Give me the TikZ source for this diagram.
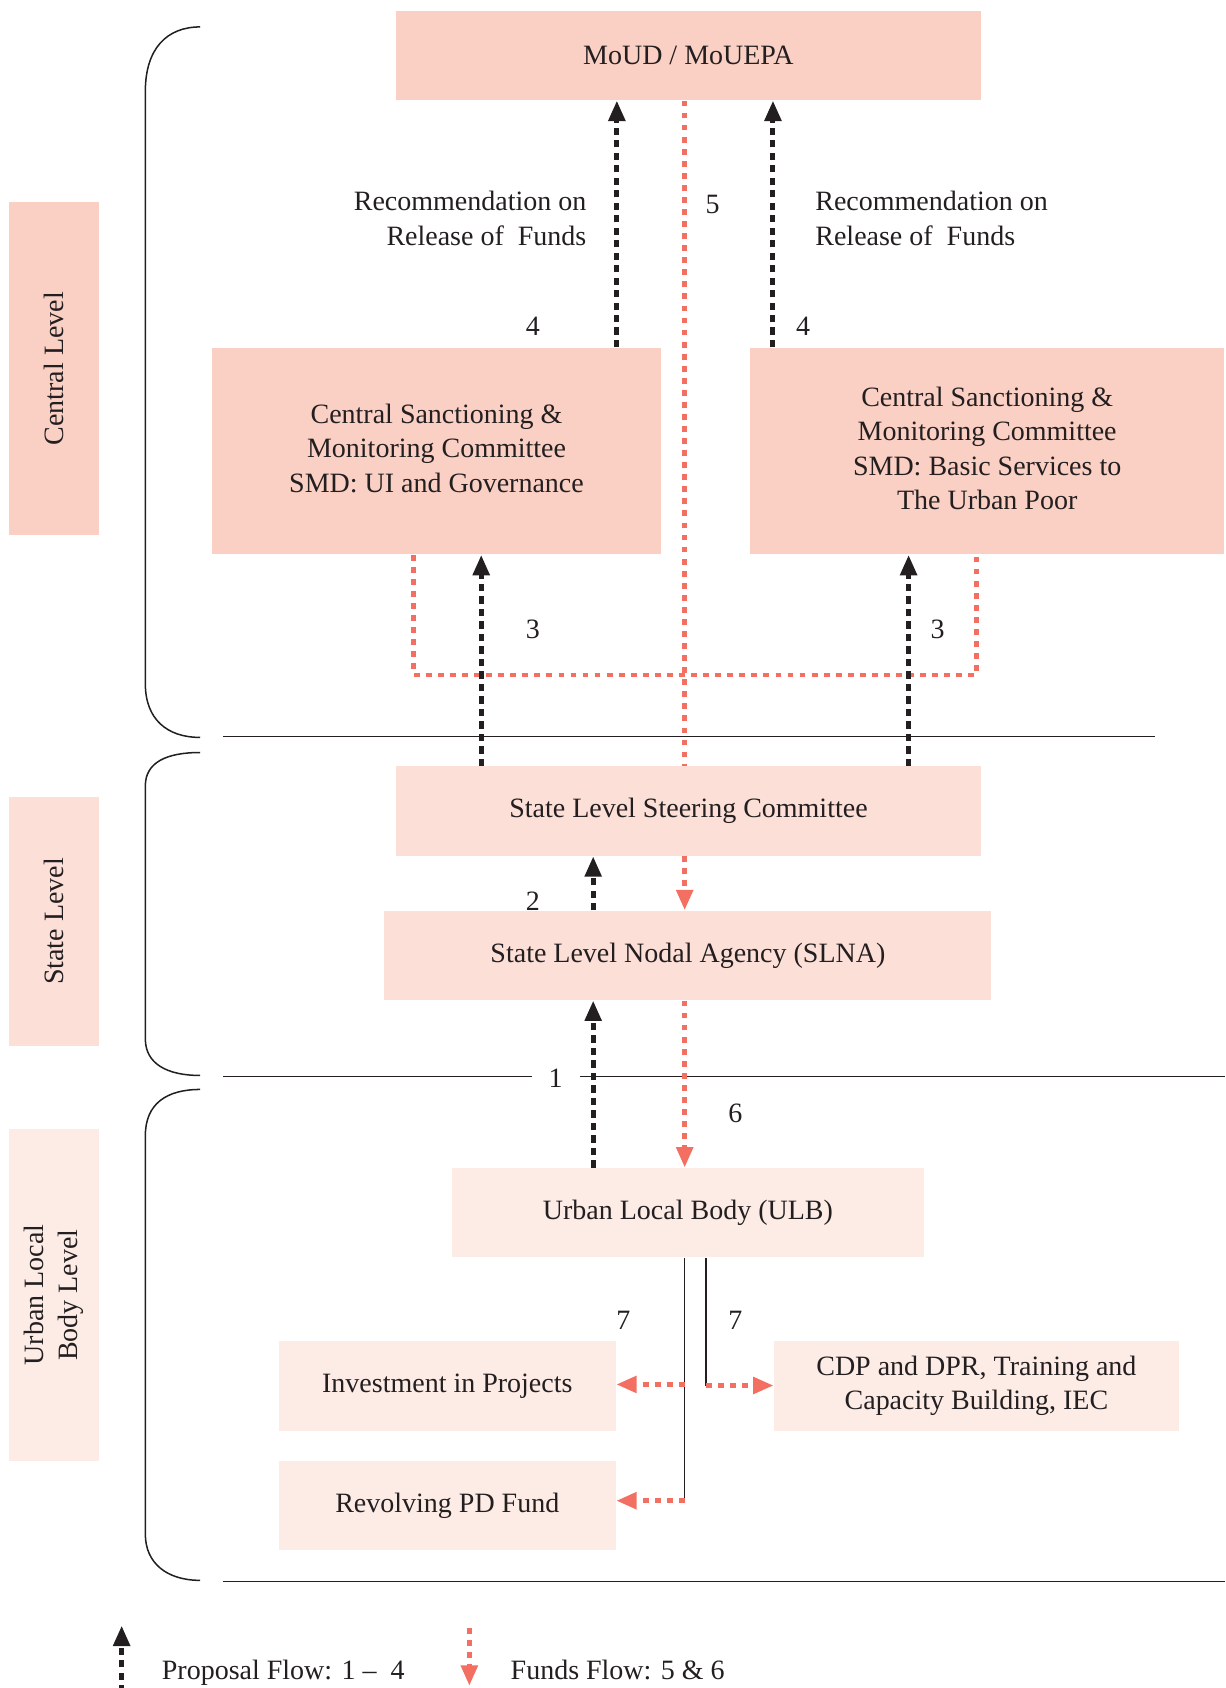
\documentclass[tikz,border=0pt]{standalone}
\usepackage{fontspec}
\setmainfont{Liberation Serif}
\usetikzlibrary{arrows.meta}
\definecolor{ink}{HTML}{231F20}
\definecolor{fund}{HTML}{F26F61}
\definecolor{cbox}{HTML}{FBD0C4}
\definecolor{sbox}{HTML}{FCDFD7}
\definecolor{ubox}{HTML}{FDECE6}
\begin{document}
\begin{tikzpicture}[x=0.5pt,y=-0.5pt,
  every node/.style={text=ink, font=\fontsize{13}{16}\selectfont, inner sep=0pt},
  box/.style={fill=#1, draw=none, inner sep=0pt, align=center},
  prop/.style={draw=ink, line width=2.3pt, dash pattern=on 3.4pt off 2.4pt, -{Triangle[width=7.5pt,length=9.5pt]}},
  fundline/.style={draw=fund, line width=2.3pt, dash pattern=on 2.7pt off 2.9pt},
  fundarrow/.style={fundline, -{Triangle[width=7.5pt,length=9.5pt]}},
  rule/.style={draw=ink, line width=0.7pt},
  num/.style={anchor=center},
]
\useasboundingbox (0,0) rectangle (1138,1568);

% side labels
\node[box=cbox, rotate=90, minimum width=154.5pt, minimum height=42pt] (lc) at (50,342.5) {Central Level};
\node[box=sbox, rotate=90, minimum width=116pt, minimum height=42pt] (ls) at (50,856) {State Level};
\node[box=ubox, rotate=90, minimum width=154pt, minimum height=42pt] (lu) at (50,1203) {Urban Local\\Body Level};

% boxes
\node[box=cbox, minimum width=271.5pt, minimum height=41.5pt] (top) at (639.5,51.5) {MoUD / MoUEPA};
\node[box=cbox, minimum width=208.5pt, minimum height=96pt] (cl) at (405.5,419) {\raisebox{3.5pt}{\begin{tabular}{@{}c@{}}Central Sanctioning \&\\Monitoring Committee\\SMD: UI and Governance\end{tabular}}};
\node[box=cbox, minimum width=220pt, minimum height=96pt] (cr) at (917,419) {\raisebox{2pt}{\begin{tabular}{@{}c@{}}Central Sanctioning \&\\Monitoring Committee\\SMD: Basic Services to\\The Urban Poor\end{tabular}}};
\node[box=sbox, minimum width=271.5pt, minimum height=41.5pt] (slsc) at (639.5,753.5) {State Level Steering Committee};
\node[box=sbox, minimum width=282pt, minimum height=41.5pt] (slna) at (639,887.5) {State Level Nodal Agency (SLNA)};
\node[box=ubox, minimum width=219pt, minimum height=41.5pt] (ulb) at (639,1126.5) {Urban Local Body (ULB)};
\node[box=ubox, minimum width=156.5pt, minimum height=41.5pt] (inv) at (415.5,1287.5) {Investment in Projects};
\node[box=ubox, minimum width=188pt, minimum height=41.5pt] (cdp) at (907,1287.5) {CDP and DPR, Training and\\Capacity Building, IEC};
\node[box=ubox, minimum width=156.5pt, minimum height=41.5pt] (rev) at (415.5,1398.5) {Revolving PD Fund};

% brackets and rules
\draw[rule] (186,25) .. controls (155,25) and (135,45) .. (135,85) -- (135,635) .. controls (135,668) and (155,685) .. (186,685);
\draw[rule] (186,699) .. controls (155,699) and (135,708) .. (135,730) -- (135,965) .. controls (135,988) and (155,999) .. (186,999);
\draw[rule] (186,1012) .. controls (155,1012) and (135,1025) .. (135,1055) -- (135,1425) .. controls (135,1452) and (155,1468) .. (186,1468);
\coordinate (r1a) at (207,684); \coordinate (r1b) at (1073,684);
\coordinate (r2a) at (207,1000); \coordinate (r2b) at (494,1000);
\coordinate (r2c) at (539,1000); \coordinate (r2d) at (1138,1000);
\coordinate (r3a) at (207,1469); \coordinate (r3b) at (1138,1469);
\draw[rule] (r1a) -- (r1b);
\draw[rule] (r2a) -- (r2b);
\draw[rule] (r2c) -- (r2d);
\draw[rule] (r3a) -- (r3b);

% columns
\coordinate (xa) at (573,0);
\coordinate (xb) at (718,0);
\coordinate (xc) at (447,0);
\coordinate (xd) at (844,0);
\coordinate (xe) at (551,0);
\coordinate (xm) at (636,0);
\coordinate (ul) at (384,627);
\coordinate (ur) at (907,627);

% funds flow
\draw[fundline] (top.south -| xm) -- (slsc.north -| xm);
\draw[fundline] (cl.south -| ul) -- (ul) -- (ur) -- (cr.south -| ur);
\draw[fundarrow] (slsc.south -| xm) -- (slna.north -| xm);
\draw[fundarrow] (slna.south -| xm) -- (ulb.north -| xm);

% proposal flow
\draw[prop] (cl.north -| xa) -- (top.south -| xa);
\draw[prop] (cr.north -| xb) -- (top.south -| xb);
\draw[prop] (slsc.north -| xc) -- (cl.south -| xc);
\draw[prop] (slsc.north -| xd) -- (cr.south -| xd);
\draw[prop] (slna.north -| xe) -- (slsc.south -| xe);
\draw[prop] (ulb.north -| xe) -- (slna.south -| xe);

% ULB distribution
\coordinate (j1) at (636,1286);
\coordinate (j2) at (636,1394);
\coordinate (k1) at (656,1287);
\draw[rule] (ulb.south -| j2) -- (j2);
\draw[rule] (ulb.south -| k1) -- (k1);
\draw[fundarrow] (j1) -- (inv.east |- j1);
\draw[fundarrow] (j2) -- (rev.east |- j2);
\draw[fundarrow] (k1) -- (cdp.west |- k1);

% labels
\node[anchor=east, align=right] (rec1) at (545,203) {Recommendation on\\Release of\ \ Funds};
\node[anchor=west, align=left] (rec2) at (757,203) {Recommendation on\\Release of\ \ Funds};
\node[num] (n4a) at (495,303) {4};
\node[num] (n4b) at (746,303) {4};
\node[num] (n5) at (662,190) {5};
\node[num] (n3a) at (495,585) {3};
\node[num] (n3b) at (871,585) {3};
\node[num] (n2) at (495,837) {2};
\node[num] (n1) at (516,1002) {1};
\node[num] (n6) at (683,1034) {6};
\node[num] (n7a) at (579,1226) {7};
\node[num] (n7b) at (683,1226) {7};

% legend
\coordinate (lg1a) at (113,1572); \coordinate (lg1b) at (113,1510);
\coordinate (lg2a) at (436,1512); \coordinate (lg2b) at (436,1566);
\draw[prop] (lg1a) -- (lg1b);
\draw[fundarrow] (lg2a) -- (lg2b);
\node[anchor=base west] (lgt1) at (150,1560) {Proposal Flow: 1 –\ \ 4};
\node[anchor=base west] (lgt2) at (474,1560) {Funds Flow: 5 \& 6};
\end{tikzpicture}
\end{document}
